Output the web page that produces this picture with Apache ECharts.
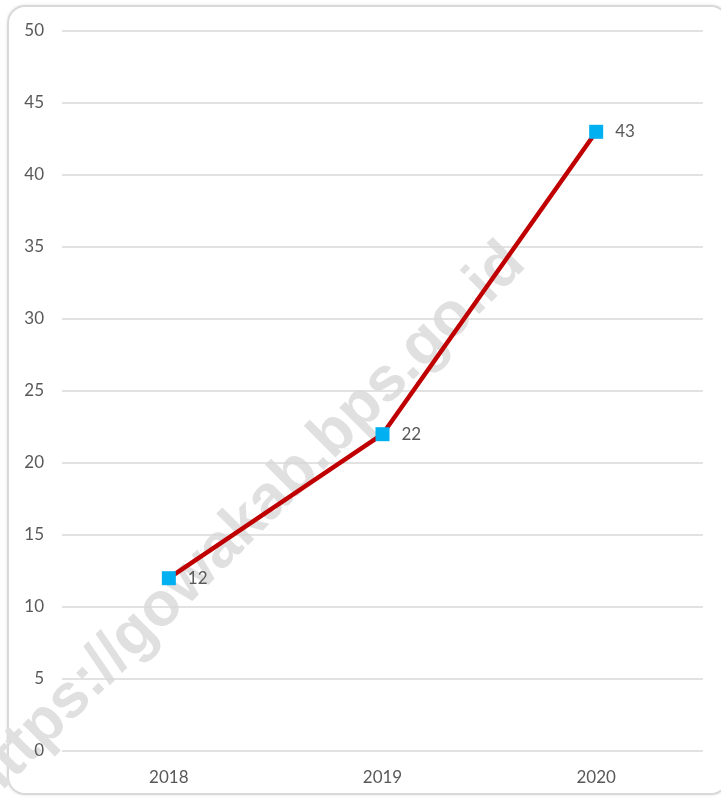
<!DOCTYPE html>
<html>
<head>
<meta charset="utf-8">
<script src="https://cdn.jsdelivr.net/npm/echarts@6/dist/echarts.min.js"></script>
<style>
html,body{margin:0;padding:0;background:#fff;overflow:hidden;}
#frame{position:absolute;left:7px;top:5px;width:722px;height:790px;border:2px solid #d9d9d9;border-radius:18px;box-shadow:0 0 3px rgba(0,0,0,0.12);box-sizing:border-box;}
#chart{position:absolute;left:0;top:0;width:721px;height:804px;}
</style>
</head>
<body>
<div id="frame"></div>
<div id="chart"></div>
<script>
var categories = ['2018', '2019', '2020'];
var values = [12, 22, 43];
var yTicks = { min: 0, max: 50, interval: 5 };
var watermarkText = 'https://gowakab.bps.go.id';

var chart = echarts.init(document.getElementById('chart'), null, { renderer: 'canvas' });
chart.setOption({
  backgroundColor: 'transparent',
  animation: false,
  textStyle: { fontFamily: 'Lato, "Open Sans", sans-serif' },
  graphic: [{
    type: 'text',
    z: 1,
    silent: true,
    x: 245,
    y: 524,
    rotation: Math.PI / 4,
    style: {
      text: watermarkText,
      font: 'bold 62px "Liberation Sans", Arial, sans-serif',
      fill: '#e0e0e0',
      textAlign: 'center',
      textVerticalAlign: 'middle'
    }
  }],
  grid: { left: 62, right: 18, top: 31, bottom: 53, containLabel: false },
  xAxis: {
    type: 'category',
    data: categories,
    boundaryGap: true,
    z: 2,
    axisLine: { show: false },
    axisTick: { show: false },
    axisLabel: { color: '#595959', fontSize: 17, margin: 18 }
  },
  yAxis: {
    type: 'value',
    min: yTicks.min,
    max: yTicks.max,
    interval: yTicks.interval,
    z: 2,
    axisLine: { show: false },
    axisTick: { show: false },
    axisLabel: { color: '#595959', fontSize: 17, margin: 18 },
    splitLine: { lineStyle: { color: '#d9d9d9', width: 1.5 } }
  },
  series: [{
    type: 'line',
    data: values,
    symbol: 'rect',
    symbolSize: 14,
    lineStyle: { color: '#C00000', width: 4.5 },
    itemStyle: { color: '#00B0F0' },
    label: {
      show: true,
      position: 'right',
      distance: 12,
      color: '#595959',
      fontSize: 17
    },
    z: 5
  }]
});
</script>
</body>
</html>
